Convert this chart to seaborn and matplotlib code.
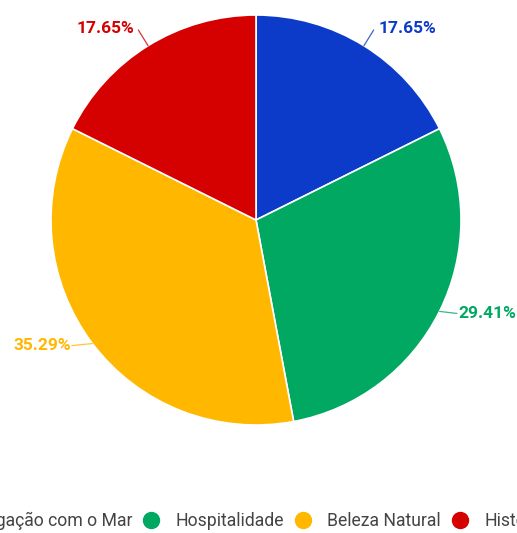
import numpy as np
import matplotlib
matplotlib.use("Agg")
import matplotlib.pyplot as plt
from matplotlib.lines import Line2D
import seaborn as sns

categories = ["Ligação com o Mar", "Hospitalidade", "Beleza Natural", "História"]
shares = [17.65, 29.41, 35.29, 17.65]
colors = ["#0D3BC9", "#00A862", "#FFB700", "#D50000"]

sns.set_theme(style="white")
plt.rcParams["font.family"] = ["Roboto", "DejaVu Sans"]

W, H = 517, 533
fig = plt.figure(figsize=(W / 100, H / 100), dpi=100)
cx, cy, R = 256, 220, 205
ax = fig.add_axes([(cx - R) / W, (H - cy - R) / H, 2 * R / W, 2 * R / H])

wedges, _ = ax.pie(
    shares, colors=colors, startangle=90, counterclock=False, radius=1.0,
    wedgeprops=dict(edgecolor="white", linewidth=1.2),
)
ax.set_xlim(-1, 1)
ax.set_ylim(-1, 1)
ax.axis("off")

# leader lines and percentage labels
for w, val, col in zip(wedges, shares, colors):
    mid = np.deg2rad((w.theta1 + w.theta2) / 2)
    x0, y0 = np.cos(mid), np.sin(mid)
    if abs(y0) < 0.7:
        x1 = x0 + np.sign(x0) * (0.085 if x0 > 0 else 0.1)
        y1 = y0 - 0.01
        dy, dx = 0.0, 0.006
    else:
        x1, y1 = 1.09 * x0, 1.09 * y0
        dy, dx = 0.006, 0.022
    ha = "left" if x0 > 0 else "right"
    ax.plot([x0, x1], [y0, y1], color=col, lw=0.9, alpha=0.8, clip_on=False)
    ax.text(x1 + np.sign(x0) * dx, y1 + dy,
            f"{val:.2f}%", color=col, ha=ha, va="center", fontsize=12.5,
            fontweight="bold", clip_on=False)

handles = [Line2D([0], [0], marker="o", linestyle="", markersize=11.5,
                  markerfacecolor=c, markeredgecolor=c) for c in colors]
fig.legend(handles, categories, loc="center", bbox_to_anchor=(0.478, 12 / H),
           ncol=4, frameon=False, fontsize=12.7, labelcolor="#444444",
           handletextpad=0.9, columnspacing=0.55, handlelength=1.0)

fig.savefig("out.png", dpi=100, facecolor="white")
